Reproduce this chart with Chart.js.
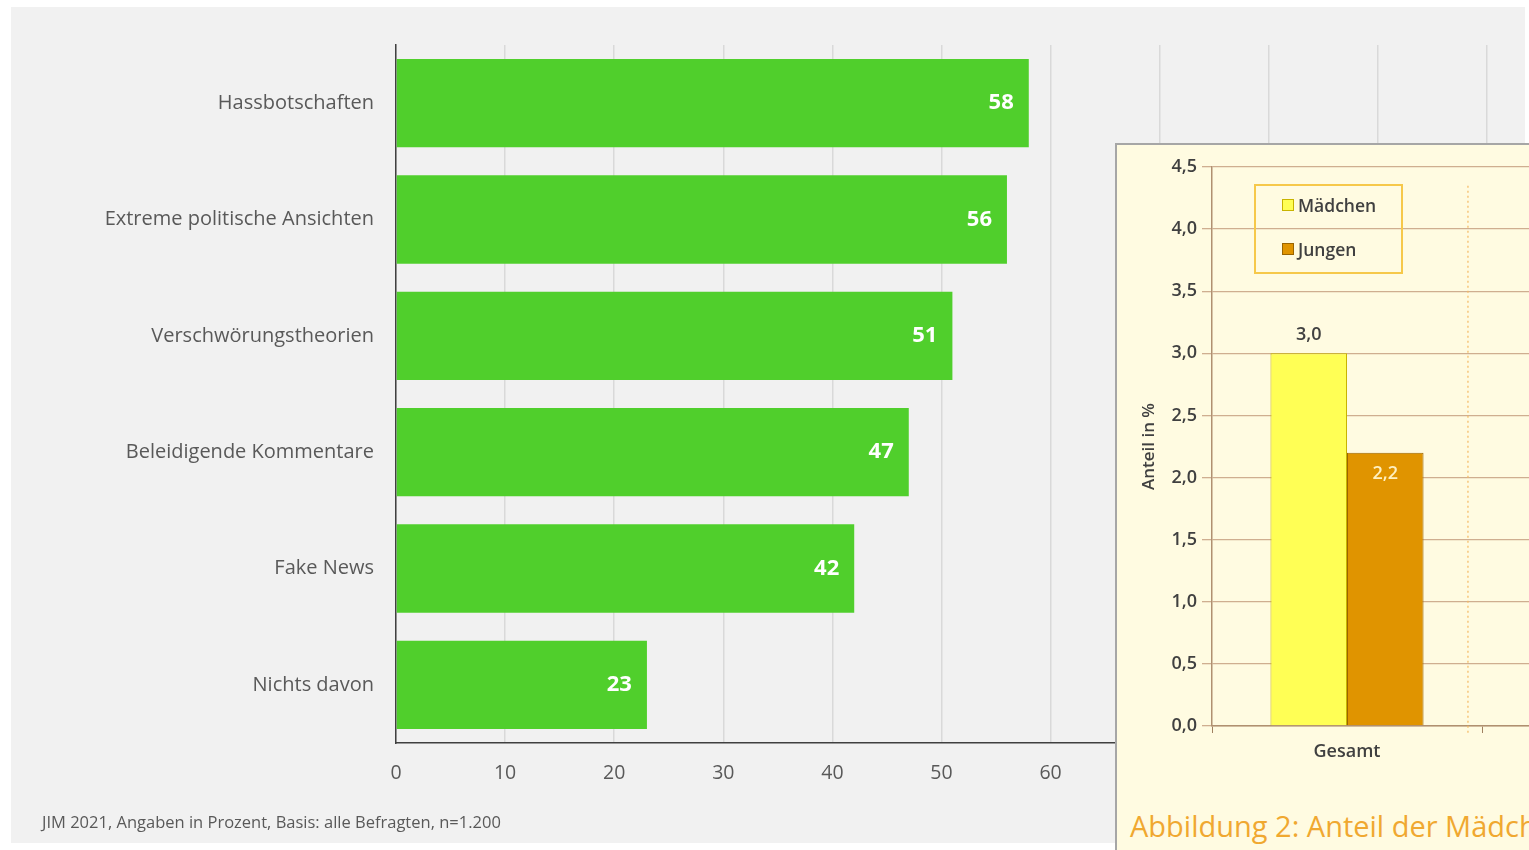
<!DOCTYPE html>
<html>
<head>
<meta charset="utf-8">
<script src="https://cdn.jsdelivr.net/npm/chart.js@4.4.1/dist/chart.umd.min.js"></script>
<style>
  html, body { margin:0; padding:0; background:#ffffff; width:1529px; height:850px; overflow:hidden; font-family:"Open Sans", sans-serif; }
  #mainWrap { position:absolute; left:11px; top:7px; width:1514px; height:836px; background:#f1f1f1; }
  #mainCanvas { position:absolute; left:0; top:0; }
  #note { position:absolute; left:31px; top:803px; font-size:16.5px; color:#595959; white-space:nowrap; }
  #inset { position:absolute; left:1115px; top:143px; width:414px; height:707px; background:#fffbe1; border-left:2px solid #a6a6a6; border-top:2px solid #a6a6a6; box-sizing:border-box; overflow:hidden; }
  #insetCanvas { position:absolute; left:-2px; top:-2px; }
  #legend { position:absolute; left:137px; top:39px; width:149px; height:90px; border:2px solid #f6c84a; box-sizing:border-box; font-size:17.5px; font-weight:600; color:#404040; }
  .lg { position:absolute; left:26px; display:flex; align-items:center; white-space:nowrap; }
  .sw { width:12px; height:12px; margin-right:4px; box-sizing:border-box; }
  #insetTitle { position:absolute; left:13px; top:661px; font-size:29px; color:#f0a830; white-space:nowrap; }
</style>
</head>
<body>
<div id="mainWrap">
  <canvas id="mainCanvas" width="1514" height="836"></canvas>
  <div id="note">JIM 2021, Angaben in Prozent, Basis: alle Befragten, n=1.200</div>
</div>
<div id="inset">
  <canvas id="insetCanvas" width="637" height="642"></canvas>
  <div id="legend"></div>
  <div id="insetTitle">Abbildung 2: Anteil der Mädchen und Jungen</div>
</div>
<script>
// ---- main chart data ----
const categories = ['Hassbotschaften', 'Extreme politische Ansichten', 'Verschwörungstheorien', 'Beleidigende Kommentare', 'Fake News', 'Nichts davon'];
const values = [58, 56, 51, 47, 42, 23];
const xMin = 0, xMax = 100, xStep = 10;

// ---- inset chart data ----
const insetCategories = ['Gesamt', ''];
const seriesNames = ['Mädchen', 'Jungen'];
const maedchen = [3.0, null];
const jungen = [2.2, null];
const insetYTicksMax = 4.5, insetYStep = 0.5;

const FONT = '"Open Sans", sans-serif';

const mainLabels = {
  id: 'mainLabels',
  afterDatasetsDraw(chart) {
    const ctx = chart.ctx;
    const meta = chart.getDatasetMeta(0);
    ctx.save();
    ctx.font = 'bold 22px ' + FONT;
    ctx.fillStyle = '#ffffff';
    ctx.textAlign = 'right';
    ctx.textBaseline = 'middle';
    meta.data.forEach((bar, i) => {
      ctx.fillText(String(chart.data.datasets[0].data[i]), bar.x - 15, bar.y);
    });
    ctx.restore();
  }
};

new Chart(document.getElementById('mainCanvas'), {
  type: 'bar',
  data: {
    labels: categories,
    datasets: [{ data: values, backgroundColor: '#50cf2c', borderWidth: 0, barPercentage: 0.76, categoryPercentage: 1 }]
  },
  options: {
    indexAxis: 'y',
    responsive: false,
    animation: false,
    layout: { padding: { top: 38, right: 38, left: 0, bottom: 0 } },
    plugins: { legend: { display: false }, tooltip: { enabled: false } },
    scales: {
      x: {
        min: xMin, max: xMax,
        ticks: { stepSize: xStep, font: { size: 19.5, family: FONT }, color: '#595959', padding: 19 },
        grid: { color: '#d9d9d9', lineWidth: 1.5, drawTicks: false },
        border: { color: '#404040', width: 1.5 },
        afterFit(s) { s.height = 100; }
      },
      y: {
        ticks: { font: { size: 20, family: FONT }, color: '#595959', padding: 22 },
        grid: { display: false, drawTicks: false },
        border: { color: '#404040', width: 1.5 },
        afterFit(s) { s.width = 385; }
      }
    }
  },
  plugins: [mainLabels]
});

const fmt = v => v.toFixed(1).replace('.', ',');

const insetExtras = {
  id: 'insetExtras',
  beforeDatasetsDraw(chart) {
    const ctx = chart.ctx;
    const xs = chart.scales.x, ys = chart.scales.y;
    const x = xs.getPixelForValue(0.448);
    ctx.save();
    ctx.strokeStyle = '#f5b860';
    ctx.lineWidth = 1.2;
    ctx.setLineDash([2, 3]);
    ctx.beginPath();
    ctx.moveTo(x, ys.getPixelForValue(4.35));
    ctx.lineTo(x, ys.getPixelForValue(0) + 8);
    ctx.stroke();
    ctx.restore();
  },
  afterDatasetsDraw(chart) {
    const ctx = chart.ctx;
    ctx.save();
    ctx.font = '600 18px ' + FONT;
    ctx.textAlign = 'center';
    ctx.textBaseline = 'middle';
    chart.data.datasets.forEach((ds, di) => {
      chart.getDatasetMeta(di).data.forEach((bar, i) => {
        const v = ds.data[i];
        if (v === null) return;
        if (di === 0) { ctx.fillStyle = '#404040'; ctx.fillText(fmt(v), bar.x, bar.y - 18); }
        else { ctx.fillStyle = '#fff0c0'; ctx.fillText(fmt(v), bar.x, bar.y + 21); }
      });
    });
    ctx.restore();
  }
};

const insetColors = ['#ffff55', '#e09400'];
const insetBorders = ['#c8b400', '#9a6400'];

const insetChart = new Chart(document.getElementById('insetCanvas'), {
  type: 'bar',
  data: {
    labels: insetCategories,
    datasets: [
      { label: seriesNames[0], data: maedchen, backgroundColor: insetColors[0], borderColor: insetBorders[0], borderWidth: 1, barPercentage: 1, categoryPercentage: 0.567 },
      { label: seriesNames[1], data: jungen, backgroundColor: insetColors[1], borderColor: insetBorders[1], borderWidth: 1, barPercentage: 1, categoryPercentage: 0.567 }
    ]
  },
  options: {
    responsive: false,
    animation: false,
    layout: { padding: { top: 24, right: 0, left: 0, bottom: 0 } },
    plugins: { legend: { display: false }, tooltip: { enabled: false } },
    scales: {
      x: {
        ticks: { font: { size: 18, weight: '600', family: FONT }, color: '#404040', padding: 8 },
        grid: { drawOnChartArea: false, drawTicks: true, tickLength: 7, color: '#a08060', offset: true },
        border: { color: '#b09070', width: 1.5 },
        afterFit(s) { s.height = 59; }
      },
      y: {
        min: 0, max: insetYTicksMax,
        ticks: { stepSize: insetYStep, callback: v => fmt(v), font: { size: 18, weight: '600', family: FONT }, color: '#404040', padding: 5 },
        grid: { color: '#cfae90', lineWidth: 1.3, tickLength: 10 },
        border: { color: '#b09070', width: 1.5 },
        title: { display: true, text: 'Anteil in %', font: { size: 17, weight: '600', family: FONT }, color: '#404040', padding: { top: 24, bottom: 0 } },
        afterFit(s) { s.width = 97; }
      }
    }
  },
  plugins: [insetExtras]
});

// HTML legend built from the datasets
const legend = document.getElementById('legend');
insetChart.data.datasets.forEach((ds, i) => {
  const item = document.createElement('div');
  item.className = 'lg';
  item.style.top = (i === 0 ? 7 : 51) + 'px';
  const sw = document.createElement('div');
  sw.className = 'sw';
  sw.style.background = ds.backgroundColor;
  sw.style.border = '1px solid ' + ds.borderColor;
  const t = document.createElement('span');
  t.textContent = ds.label;
  item.appendChild(sw); item.appendChild(t);
  legend.appendChild(item);
});
</script>
</body>
</html>
